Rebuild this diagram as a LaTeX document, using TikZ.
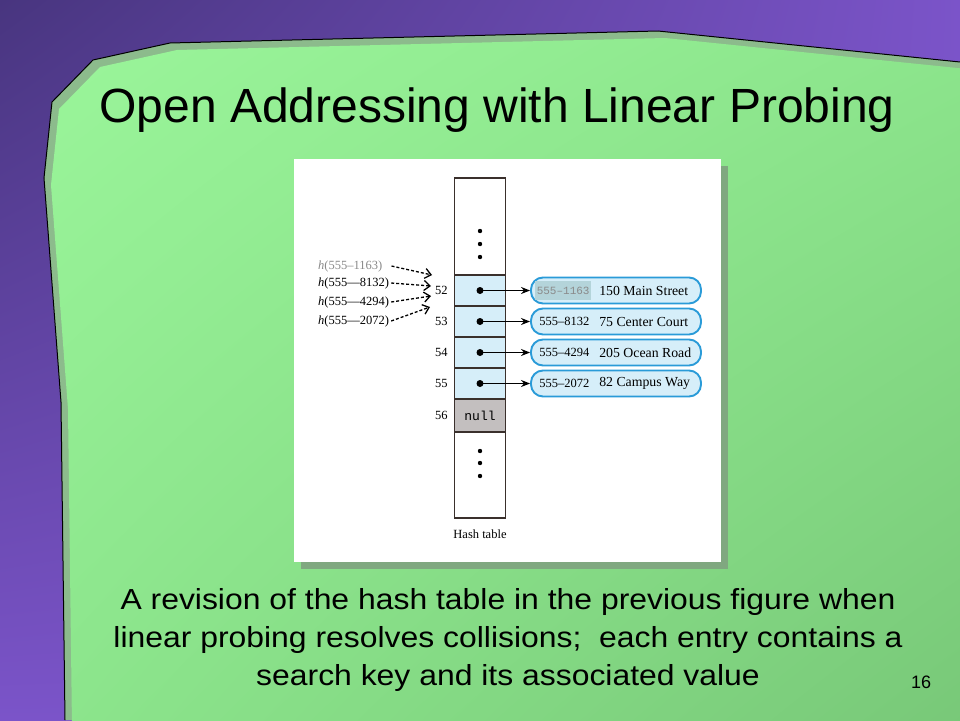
\documentclass[tikz,border=0pt]{standalone}
\usepackage{fontspec}
\setmainfont{Liberation Serif}
\newfontfamily\slidefont{Liberation Sans}
\newfontfamily\slidewide[FakeStretch=1.1]{Liberation Sans}
\newfontfamily\codefont{Liberation Mono}
\usepackage{xcolor}
\usetikzlibrary{arrows.meta}
\usetikzlibrary{positioning}
\usetikzlibrary{shadings}

\definecolor{purpdark}{HTML}{48357F}
\definecolor{purplight}{HTML}{7B54C9}
\definecolor{greenlight}{HTML}{9AF59A}
\definecolor{greenmid}{HTML}{8CE58C}
\definecolor{greendark}{HTML}{78C878}
\definecolor{greenedge}{HTML}{8CBB8C}
\definecolor{panelshadow}{HTML}{80A880}
\definecolor{slotblue}{HTML}{D6EEF9}
\definecolor{ovalblue}{HTML}{2A9BD8}
\definecolor{nullgray}{HTML}{C3BFBF}
\definecolor{keygray}{HTML}{B4D4DA}
\definecolor{inkgray}{HTML}{8A8A8A}
\definecolor{tableink}{HTML}{3A302C}

\begin{document}
\begin{tikzpicture}[x=1pt,y=-1pt,
  slot/.style={draw=tableink, line width=1.3pt, fill=slotblue,
    minimum width=51pt, minimum height=31pt, inner sep=0pt},
  entry/.style={draw=ovalblue, line width=1.9pt, fill=slotblue,
    rounded corners=12pt, minimum width=170pt, minimum height=26pt, inner sep=0pt},
  fig/.style={font=\fontsize{12.5}{14}\selectfont, inner sep=0pt},
  value/.style={font=\fontsize{13.8}{15}\selectfont, inner sep=0pt, anchor=west},
  probe/.style={dash pattern=on 3pt off 2pt, line width=1.3pt,
    -{Straight Barb[length=6pt,width=10pt]}},
  link/.style={line width=1.4pt, -{Stealth[length=9pt,width=7pt]}}]

\useasboundingbox (0,0) rectangle (960,720);
\shade[upper left=purpdark, upper right=purplight, lower left=purplight,
       lower right=purplight] (0,0) rectangle (960,720);

\fill[greenedge] (65,720) -- (61,402) -- (44,178) -- (52,102) -- (93,60)
       -- (170,43) -- (658,31) -- (960,62) -- (960,720) -- cycle;
\shade[shift={(7,7)}, upper left=greenlight, upper right=greenmid,
       lower left=greenmid, lower right=greendark]
       (65,720) -- (61,402) -- (44,178) -- (52,102) -- (93,60)
       -- (170,43) -- (658,31) -- (960,62) -- (960,720) -- cycle;
\draw[line width=1pt] (65,720) -- (61,402) -- (44,178) -- (52,102) -- (93,60)
       -- (170,43) -- (658,31) -- (960,62);

\node [font=\slidefont\fontsize{48}{54}\selectfont, inner sep=0pt, anchor=base]
       (title) at (497,122) {Open Addressing with Linear Probing};

\fill[panelshadow] (301,166) rectangle (728,569);
\fill[white] (294,159) rectangle (721,562);

\node [slot, fill=white, minimum height=97pt] (top) at (480,226.5) {};
\foreach \d in {4.5,17.5,30.5}
  \fill (top.center) ++(0,\d) circle (2.2pt);

\foreach \k [count=\i from 0] in {52,53,54,55} {
  \node [slot] (s\k) at (480,290.5+31*\i) {};
  \node [fig, left=6pt of s\k] (i\k) {\k};
  \fill (s\k.center) circle (3.5pt);
  \node [entry] (e\k) at (616,290.5+31*\i) {};
  \draw [link] (s\k.center) -- (e\k.west);
}
\node [slot, fill=nullgray, minimum height=33pt,
       font=\codefont\fontsize{13}{15}\selectfont] (s56) at (480,415.5) {null};
\node [fig, left=6pt of s56] (i56) {56};

\node [slot, fill=white, minimum height=86pt] (bottom) at (480,475) {};
\foreach \d in {-24,-12,1}
  \fill (bottom.center) ++(0,\d) circle (2.2pt);
\node [fig, below=11pt of bottom] (caption) {Hash table};

\node [fill=keygray, text=inkgray, anchor=west, inner sep=1.5pt,
       minimum height=19pt, font=\codefont\fontsize{11}{13}\selectfont]
       (k52) at ([xshift=5pt]e52.west) {555–1163};
\node [value] (v52) at ([xshift=69pt]e52.west) {150 Main Street};
\node [fig, anchor=west] (k53) at ([xshift=9pt]e53.west) {555–8132};
\node [value] (v53) at ([xshift=69pt]e53.west) {75 Center Court};
\node [fig, anchor=west] (k54) at ([xshift=9pt]e54.west) {555–4294};
\node [value] (v54) at ([xshift=69pt]e54.west) {205 Ocean Road};
\node [fig, anchor=west] (k55) at ([xshift=9pt]e55.west) {555–2072};
\node [value] (v55) at ([xshift=69pt]e55.west) {82 Campus Way};

\node [fig, text=inkgray, anchor=west] (h1) at (318,266) {\textit{h}(555–1163)};
\node [fig, anchor=west] (h2) at (318,283) {\textit{h}(555—8132)};
\node [fig, anchor=west] (h3) at (318,302) {\textit{h}(555—4294)};
\node [fig, anchor=west] (h4) at (318,321) {\textit{h}(555—2072)};
\coordinate (p1) at (432,275);
\coordinate (p2) at (431,286);
\coordinate (p3) at (431,296);
\coordinate (p4) at (430,307);
\draw [probe] ([xshift=9pt]h1.east) -- (p1);
\draw [probe] ([xshift=2pt]h2.east) -- (p2);
\draw [probe] ([xshift=2pt]h3.east) -- (p3);
\draw [probe] ([xshift=2pt]h4.east) -- (p4);

\node [font=\slidewide\fontsize{29}{38}\selectfont, inner sep=0pt,
       align=center, anchor=base] (note) at (508,685)
       {A revision of the hash table in the previous figure when\\
        linear probing resolves collisions; \ each entry contains a\\
        search key and its associated value};
\node [font=\slidefont\fontsize{18}{20}\selectfont, inner sep=0pt, anchor=base]
       (pagenum) at (921,688) {16};
\end{tikzpicture}
\end{document}
